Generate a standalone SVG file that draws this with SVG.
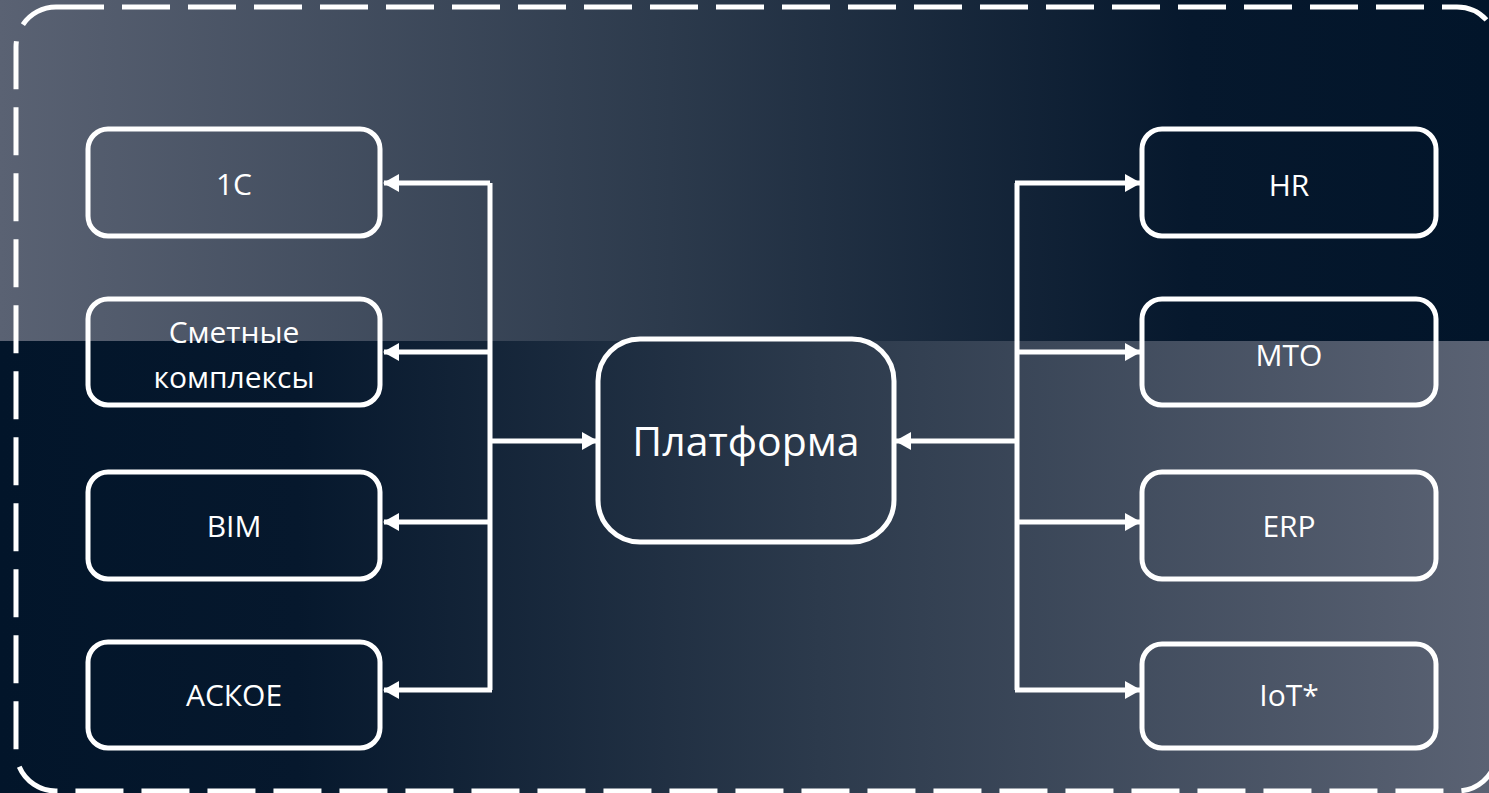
<svg xmlns="http://www.w3.org/2000/svg" width="1489" height="793" viewBox="0 0 1489 793">
  <defs>
    <linearGradient id="bgTop" x1="0" y1="0" x2="1489" y2="0" gradientUnits="userSpaceOnUse">
      <stop offset="0" stop-color="#5a6273"/>
      <stop offset="0.45" stop-color="#2c3a4c"/>
      <stop offset="0.8" stop-color="#06182d"/>
      <stop offset="1" stop-color="#02152a"/>
    </linearGradient>
    <linearGradient id="bgBottom" x1="0" y1="0" x2="1489" y2="0" gradientUnits="userSpaceOnUse">
      <stop offset="0" stop-color="#02152a"/>
      <stop offset="0.2" stop-color="#06182d"/>
      <stop offset="0.55" stop-color="#2c3a4c"/>
      <stop offset="1" stop-color="#5a6273"/>
    </linearGradient>
    <marker id="arrow" viewBox="0 0 16 18" refX="15" refY="9" markerWidth="16" markerHeight="18" markerUnits="userSpaceOnUse" orient="auto">
      <path d="M0,0 L16,9 L0,18 Z" fill="#ffffff"/>
    </marker>
    <style>
      .box { fill: none; stroke: #ffffff; stroke-width: 5; }
      .label { fill: #ffffff; font-family: "Open Sans", "Noto Sans", sans-serif; font-size: 30px; text-anchor: middle; }
      .big { font-size: 41px; }
      .wire { fill: none; stroke: #ffffff; stroke-width: 5; }
      .frame { fill: none; stroke: #ffffff; stroke-width: 5; stroke-dasharray: 48 18; }
    </style>
  </defs>

  <!-- background: two horizontal bands with opposite gradients -->
  <rect x="0" y="0" width="1489" height="341" fill="url(#bgTop)"/>
  <rect x="0" y="341" width="1489" height="452" fill="url(#bgBottom)"/>

  <!-- dashed outer frame -->
  <rect class="frame" x="16" y="7" width="1481" height="784" rx="40" ry="40"/>

  <!-- connectors -->
  <g id="connectors">
    <!-- left bus -->
    <path class="wire" d="M490,183 V690"/>
    <path class="wire" d="M490,183 H384" marker-end="url(#arrow)"/>
    <path class="wire" d="M490,352 H384" marker-end="url(#arrow)"/>
    <path class="wire" d="M490,522 H384" marker-end="url(#arrow)"/>
    <path class="wire" d="M492,690 H384" marker-end="url(#arrow)"/>
    <path class="wire" d="M490,441 H597" marker-end="url(#arrow)"/>
    <!-- right bus -->
    <path class="wire" d="M1017,183 V690"/>
    <path class="wire" d="M1017,441 H896" marker-end="url(#arrow)"/>
    <path class="wire" d="M1015,183 H1140" marker-end="url(#arrow)"/>
    <path class="wire" d="M1017,352 H1140" marker-end="url(#arrow)"/>
    <path class="wire" d="M1017,522 H1140" marker-end="url(#arrow)"/>
    <path class="wire" d="M1015,690 H1140" marker-end="url(#arrow)"/>
  </g>

  <!-- left column -->
  <g id="node-1c">
    <rect class="box" x="88" y="129" width="292" height="107" rx="20"/>
    <text class="label" x="234" y="195">1C</text>
  </g>
  <g id="node-smeta">
    <rect class="box" x="88" y="299" width="292" height="106" rx="20"/>
    <text class="label" x="234" y="343">Сметные</text>
    <text class="label" x="234" y="388">комплексы</text>
  </g>
  <g id="node-bim">
    <rect class="box" x="88" y="472" width="292" height="107" rx="20"/>
    <text class="label" x="234" y="537">BIM</text>
  </g>
  <g id="node-askoe">
    <rect class="box" x="88" y="642" width="292" height="106" rx="20"/>
    <text class="label" x="234" y="706">АСКОЕ</text>
  </g>

  <!-- center -->
  <g id="node-platform">
    <rect class="box" x="598" y="339" width="296" height="203" rx="42"/>
    <text class="label big" x="746" y="456">Платформа</text>
  </g>

  <!-- right column -->
  <g id="node-hr">
    <rect class="box" x="1142" y="129" width="294" height="107" rx="20"/>
    <text class="label" x="1289" y="196">HR</text>
  </g>
  <g id="node-mto">
    <rect class="box" x="1142" y="299" width="294" height="106" rx="20"/>
    <text class="label" x="1289" y="366">МТО</text>
  </g>
  <g id="node-erp">
    <rect class="box" x="1142" y="472" width="294" height="107" rx="20"/>
    <text class="label" x="1289" y="537">ERP</text>
  </g>
  <g id="node-iot">
    <rect class="box" x="1142" y="644" width="294" height="104" rx="20"/>
    <text class="label" x="1289" y="706">IoT*</text>
  </g>
</svg>
